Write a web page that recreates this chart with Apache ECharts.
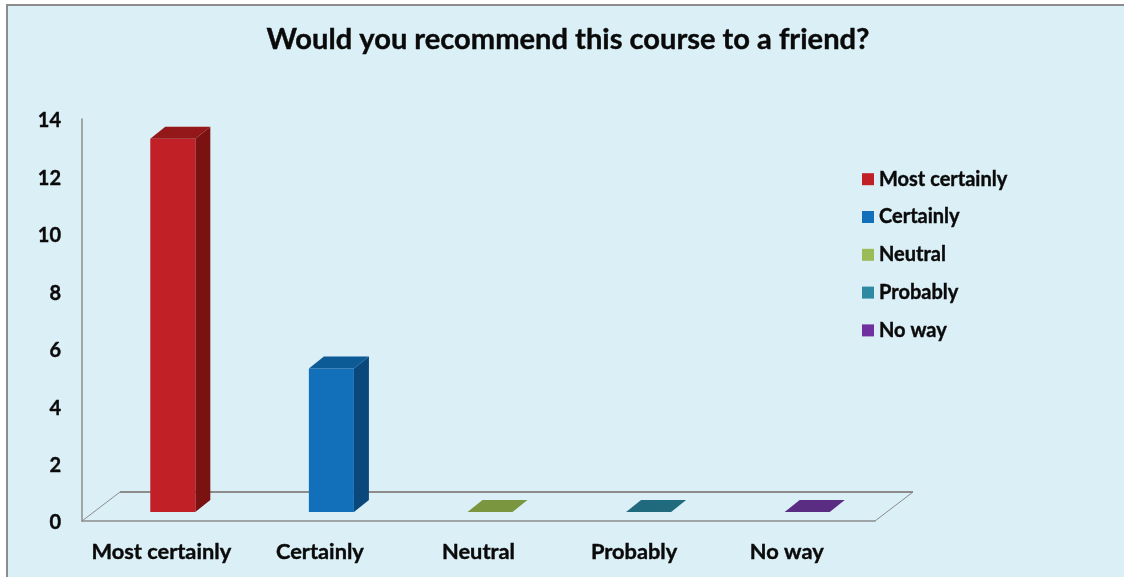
<!DOCTYPE html>
<html>
<head>
<meta charset="utf-8">
<title>Would you recommend this course to a friend?</title>
<script src="https://cdn.jsdelivr.net/npm/echarts@6/dist/echarts.min.js"></script>
<style>
    html, body { margin: 0; padding: 0; background: #fff; }
    #chart { width: 1124px; height: 577px; }
</style>
</head>
<body>
<div id="chart"></div>
<script>
const chartTitle = 'Would you recommend this course to a friend?'
const categories = ['Most certainly', 'Certainly', 'Neutral', 'Probably', 'No way']
const values = [13, 5, 0, 0, 0]
const yTicks = { min: 0, max: 14, interval: 2 }

const frontColors = ['#C02026', '#1170B9', '#9BBB59', '#2E8AA3', '#7030A0']
const sideColors = ['#7B1212', '#0A487B', '#5F7A30', '#1B5566', '#4A1E6E']
const topColors = ['#941819', '#0C5A96', '#7A9740', '#206A7E', '#5A2D82']

const font = 'Lato, sans-serif'
const textColor = '#0a0a0a'
const lineColor = '#8C8C8C'
// Lato bold is a bit thin next to the original font, thicken it slightly
const heavy = { fontFamily: font, fontWeight: 'bold', color: textColor, textBorderColor: textColor, textBorderWidth: 0.4 }
// 3d look: depth of the floor and of the bars, in px
const floorDepth = { x: 38, y: 29 }
const barDepth = { x: 15, y: 12 }
const barLift = 9
const barShift = 11.5
const barRatio = 0.284
// the last two labels sit a little left of their slot in the original
const labelPadRight = [0, 0, 0, 6, 18]

function renderBar (params, api) {
    const i = params.seriesIndex
    const base = api.coord([api.value(0), 0])
    const top = api.coord([api.value(0), api.value(1)])
    const w = api.size([1, 0])[0] * barRatio
    const x0 = base[0] + barShift - w / 2
    const x1 = x0 + w
    const y0 = base[1] - barLift
    const y1 = top[1] - barLift
    const dx = barDepth.x
    const dy = barDepth.y
    const children = []
    if (y0 - y1 > 0) {
        children.push({
            type: 'polygon',
            shape: { points: [[x1, y0], [x1 + dx, y0 - dy], [x1 + dx, y1 - dy], [x1, y1]] },
            style: { fill: sideColors[i] }
        })
        children.push({
            type: 'rect',
            shape: { x: x0, y: y1, width: w, height: y0 - y1 },
            style: { fill: frontColors[i] }
        })
    }
    children.push({
        type: 'polygon',
        shape: { points: [[x0, y1], [x0 + dx, y1 - dy], [x1 + dx, y1 - dy], [x1, y1]] },
        style: { fill: topColors[i] }
    })
    return { type: 'group', children }
}

function renderFloor (params) {
    const g = params.coordSys
    const left = g.x
    const right = g.x + g.width
    const y = g.y + g.height
    const stroke = { stroke: lineColor, lineWidth: 1, fill: 'none' }
    return {
        type: 'group',
        children: [
            { type: 'line', shape: { x1: left, y1: y, x2: left + floorDepth.x, y2: y - floorDepth.y }, style: stroke },
            { type: 'line', shape: { x1: right, y1: y, x2: right + floorDepth.x, y2: y - floorDepth.y }, style: stroke },
            {
                type: 'line',
                shape: { x1: left + floorDepth.x, y1: y - floorDepth.y, x2: right + floorDepth.x, y2: y - floorDepth.y },
                style: { stroke: lineColor, lineWidth: 2, fill: 'none' }
            }
        ]
    }
}

const barSeries = categories.map((name, i) => ({
    name,
    type: 'custom',
    renderItem: renderBar,
    itemStyle: { color: frontColors[i] },
    data: [[i, values[i]]],
    z: 3
}))

const labelRich = {}
labelPadRight.forEach((pad, i) => {
    labelRich['c' + i] = { ...heavy, fontSize: 21.8, padding: [0, pad, 0, 0] }
})

const myChart = echarts.init(document.getElementById('chart'), null, { renderer: 'canvas' })
myChart.setOption({
    animation: false,
    backgroundColor: '#fff',
    textStyle: { fontFamily: font },
    graphic: [{
        type: 'rect',
        z: -10,
        silent: true,
        shape: { x: 7, y: 5, width: 1130, height: 590 },
        style: { fill: '#DBEFF6', stroke: lineColor, lineWidth: 2 }
    }],
    title: {
        text: chartTitle,
        left: 563,
        top: 20,
        textAlign: 'center',
        textStyle: { ...heavy, fontSize: 29.1 }
    },
    legend: {
        orient: 'vertical',
        left: 857,
        top: 164,
        icon: 'rect',
        itemWidth: 12,
        itemHeight: 12,
        itemGap: 17.4,
        itemStyle: { borderWidth: 0 },
        textStyle: { ...heavy, fontSize: 20 },
        data: categories
    },
    grid: { left: 82, right: 249, top: 119, bottom: 56 },
    xAxis: {
        type: 'category',
        data: categories,
        axisTick: { show: false },
        axisLine: { lineStyle: { color: lineColor, width: 1.5 } },
        axisLabel: {
            interval: 0,
            margin: 20,
            formatter: (v, i) => '{c' + i + '|' + v + '}',
            rich: labelRich
        }
    },
    yAxis: {
        type: 'value',
        min: yTicks.min,
        max: yTicks.max,
        interval: yTicks.interval,
        splitLine: { show: false },
        axisTick: { show: false },
        axisLine: { show: true, lineStyle: { color: lineColor, width: 1.5 } },
        axisLabel: {
            margin: 21,
            formatter: v => '{t|' + v + '}',
            rich: { t: { ...heavy, fontSize: 20, padding: [4, 0, 0, 0] } }
        }
    },
    series: barSeries.concat([
        {
            type: 'custom',
            renderItem: renderFloor,
            silent: true,
            data: [[0, 0]],
            z: 1
        }
    ])
})
</script>
</body>
</html>
